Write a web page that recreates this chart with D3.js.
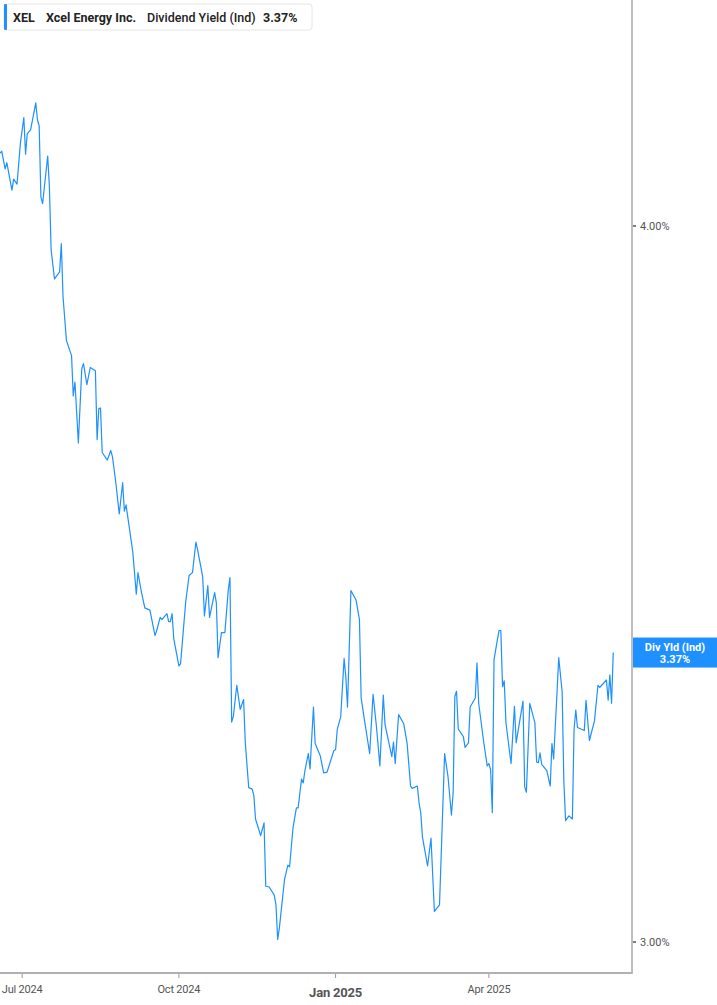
<!DOCTYPE html>
<html>
<head>
<meta charset="utf-8">
<script src="https://cdn.jsdelivr.net/npm/d3@7"></script>
<style>
  html, body { margin: 0; padding: 0; background: #fff; }
  svg { display: block; font-family: Roboto, Inter, "Noto Sans", sans-serif; }
</style>
</head>
<body>
<svg id="chart" width="717" height="1005"></svg>
<script>
// dividend yield (indicated), %
var dates = [
  "2024-06-18","2024-06-19","2024-06-21","2024-06-22","2024-06-25","2024-06-26","2024-06-28","2024-06-30",
  "2024-07-02","2024-07-03","2024-07-04","2024-07-06","2024-07-09","2024-07-10","2024-07-11","2024-07-12",
  "2024-07-13","2024-07-16","2024-07-17","2024-07-18","2024-07-20","2024-07-23","2024-07-24","2024-07-25",
  "2024-07-27","2024-07-30","2024-07-31","2024-08-01","2024-08-03","2024-08-05","2024-08-06","2024-08-08",
  "2024-08-10","2024-08-13","2024-08-14","2024-08-15","2024-08-16","2024-08-17","2024-08-20","2024-08-22",
  "2024-08-23","2024-08-25","2024-08-27","2024-08-29","2024-08-30","2024-08-31","2024-09-04","2024-09-06",
  "2024-09-07","2024-09-09","2024-09-11","2024-09-14","2024-09-17","2024-09-18","2024-09-20","2024-09-21",
  "2024-09-24","2024-09-25","2024-09-26","2024-09-27","2024-09-28","2024-10-01","2024-10-02","2024-10-05",
  "2024-10-07","2024-10-09","2024-10-11","2024-10-12","2024-10-15","2024-10-16","2024-10-18","2024-10-19",
  "2024-10-22","2024-10-23","2024-10-24","2024-10-26","2024-10-28","2024-10-30","2024-10-31","2024-11-01",
  "2024-11-02","2024-11-04","2024-11-06","2024-11-08","2024-11-09","2024-11-11","2024-11-13","2024-11-14",
  "2024-11-15","2024-11-18","2024-11-20","2024-11-21","2024-11-23","2024-11-26","2024-11-27","2024-11-28",
  "2024-11-29","2024-12-02","2024-12-04","2024-12-05","2024-12-07","2024-12-09","2024-12-10","2024-12-12",
  "2024-12-13","2024-12-14","2024-12-16","2024-12-17","2024-12-19","2024-12-20","2024-12-23","2024-12-25",
  "2024-12-27","2024-12-31","2025-01-01","2025-01-02","2025-01-04","2025-01-06","2025-01-07","2025-01-08",
  "2025-01-10","2025-01-13","2025-01-15","2025-01-16","2025-01-18","2025-01-21","2025-01-23","2025-01-25",
  "2025-01-27","2025-01-29","2025-01-30","2025-02-03","2025-02-04","2025-02-05","2025-02-07","2025-02-10",
  "2025-02-12","2025-02-14","2025-02-15","2025-02-18","2025-02-19","2025-02-20","2025-02-21","2025-02-24",
  "2025-02-26","2025-02-28","2025-03-03","2025-03-06","2025-03-08","2025-03-10","2025-03-11","2025-03-12",
  "2025-03-13","2025-03-14","2025-03-17","2025-03-18","2025-03-20","2025-03-21","2025-03-24","2025-03-25",
  "2025-03-26","2025-03-29","2025-03-31","2025-04-01","2025-04-02","2025-04-03","2025-04-04","2025-04-06",
  "2025-04-07","2025-04-08","2025-04-09","2025-04-10","2025-04-11","2025-04-14","2025-04-16","2025-04-17",
  "2025-04-21","2025-04-22","2025-04-23","2025-04-25","2025-04-28","2025-04-29","2025-04-30","2025-05-01",
  "2025-05-02","2025-05-05","2025-05-07","2025-05-08","2025-05-09","2025-05-12","2025-05-14","2025-05-15",
  "2025-05-16","2025-05-18","2025-05-20","2025-05-21","2025-05-22","2025-05-23","2025-05-27","2025-05-28",
  "2025-05-30","2025-06-02","2025-06-04","2025-06-05","2025-06-09","2025-06-10","2025-06-11","2025-06-12",
  "2025-06-13"
];

var yields = [
  4.119,4.122,4.093,4.103,4.058,4.076,4.068,4.136,
  4.178,4.117,4.151,4.158,4.203,4.174,4.164,4.047,
  4.036,4.114,4.063,3.962,3.916,3.927,3.972,3.888,
  3.820,3.797,3.736,3.757,3.666,3.777,3.785,3.753,
  3.779,3.774,3.671,3.717,3.718,3.652,3.641,3.655,
  3.646,3.608,3.563,3.608,3.567,3.576,3.508,3.450,
  3.480,3.453,3.431,3.428,3.393,3.400,3.418,3.415,
  3.423,3.412,3.412,3.423,3.389,3.352,3.355,3.439,
  3.476,3.480,3.523,3.512,3.474,3.420,3.462,3.418,
  3.452,3.438,3.363,3.397,3.397,3.456,3.473,3.277,
  3.285,3.326,3.294,3.307,3.250,3.192,3.190,3.182,
  3.152,3.131,3.147,3.068,3.067,3.057,3.045,3.003,
  3.017,3.076,3.094,3.092,3.141,3.166,3.166,3.203,
  3.198,3.214,3.236,3.216,3.297,3.249,3.233,3.211,
  3.212,3.240,3.241,3.268,3.284,3.362,3.337,3.297,
  3.455,3.442,3.415,3.309,3.279,3.236,3.314,3.271,
  3.220,3.313,3.274,3.232,3.251,3.223,3.287,3.275,
  3.249,3.194,3.191,3.194,3.172,3.160,3.129,3.093,
  3.128,3.037,3.045,3.236,3.206,3.157,3.185,3.311,
  3.318,3.268,3.258,3.244,3.250,3.297,3.309,3.356,
  3.302,3.250,3.220,3.223,3.215,3.160,3.360,3.388,
  3.400,3.400,3.324,3.332,3.276,3.223,3.298,3.250,
  3.305,3.193,3.186,3.302,3.276,3.225,3.224,3.237,
  3.222,3.214,3.194,3.249,3.229,3.363,3.317,3.199,
  3.150,3.156,3.152,3.268,3.293,3.270,3.266,3.306,
  3.253,3.279,3.326,3.323,3.333,3.306,3.340,3.302,
  3.370
];

var yTicks = [3.00, 4.00];
var xTicks = ["2024-07-01", "2024-10-01", "2025-01-01", "2025-04-01"];
var xTickLabels = ["Jul 2024", "Oct 2024", "Jan 2025", "Apr 2025"];
var ticker = "XEL", company = "Xcel Energy Inc.", seriesName = "Dividend Yield (Ind)";

var parse = d3.timeParse("%Y-%m-%d");
var data = dates.map(function (d, i) { return { date: parse(d), value: yields[i] }; });
var last = data[data.length - 1];

var blue = "#1e90ff";
var plotW = 632, plotH = 973;

var svg = d3.select("#chart");

var x = d3.scaleTime()
  .domain([parse("2024-06-18"), parse("2025-06-24")])
  .range([0, plotW]);

var y = d3.scaleLog()
  .domain([3, 4])
  .range([942, 226]);

svg.append("clipPath").attr("id", "clip")
  .append("rect").attr("width", plotW).attr("height", plotH);

// line
var line = d3.line()
  .x(function (d) { return x(d.date); })
  .y(function (d) { return y(d.value); });

svg.append("path")
  .datum(data)
  .attr("clip-path", "url(#clip)")
  .attr("fill", "none")
  .attr("stroke", blue)
  .attr("stroke-width", 1.2)
  .attr("stroke-linejoin", "round")
  .attr("d", line);

// right axis
var yAxisG = svg.append("g").attr("transform", "translate(" + plotW + ",0)");
yAxisG.append("line")
  .attr("y1", 0).attr("y2", plotH)
  .attr("stroke", "#a8a8a8").attr("stroke-width", 1.5);
var yt = yAxisG.selectAll(".yt").data(yTicks).enter().append("g")
  .attr("transform", function (d) { return "translate(0," + y(d) + ")"; });
yt.append("line").attr("x1", 1).attr("x2", 4).attr("stroke", "#555").attr("stroke-width", 1.5);
yt.append("text")
  .attr("x", 8).attr("dy", "0.35em")
  .attr("font-size", 11).attr("fill", "#555")
  .text(function (d) { return d3.format(".2f")(d) + "%"; });

// bottom axis
var xAxisG = svg.append("g").attr("transform", "translate(0," + plotH + ")");
xAxisG.append("line")
  .attr("x1", 0).attr("x2", plotW + 0.75)
  .attr("stroke", "#b0b0b0").attr("stroke-width", 2);
var xt = xAxisG.selectAll(".xt").data(xTicks).enter().append("g")
  .attr("transform", function (d) { return "translate(" + x(parse(d)) + ",0)"; });
xt.append("line").attr("y1", 1).attr("y2", 5).attr("stroke", "#999").attr("stroke-width", 1);
xt.append("text")
  .attr("text-anchor", "middle")
  .attr("y", function (d, i) { return xTickLabels[i].indexOf("Jan") === 0 ? 24 : 20; })
  .attr("font-size", function (d, i) { return xTickLabels[i].indexOf("Jan") === 0 ? 13 : 11; })
  .attr("font-weight", function (d, i) { return xTickLabels[i].indexOf("Jan") === 0 ? "bold" : "normal"; })
  .attr("fill", "#555")
  .attr("letter-spacing", -0.2)
  .text(function (d, i) { return xTickLabels[i]; });

// last value flag
var flag = svg.append("g").attr("transform", "translate(" + (plotW + 1) + "," + y(last.value) + ")");
flag.append("rect")
  .attr("x", 0).attr("y", -15).attr("width", 84).attr("height", 30)
  .attr("fill", blue);
flag.append("text")
  .attr("x", 42).attr("y", -2).attr("text-anchor", "middle")
  .attr("font-size", 11).attr("font-weight", "bold").attr("fill", "#fff")
  .text("Div Yld (Ind)");
flag.append("text")
  .attr("x", 42).attr("y", 10).attr("text-anchor", "middle")
  .attr("font-size", 11).attr("font-weight", "bold").attr("fill", "#fff")
  .text(d3.format(".2f")(last.value) + "%");

// legend box
var leg = svg.append("g").attr("transform", "translate(4,4)");
leg.append("rect")
  .attr("width", 308).attr("height", 26).attr("rx", 3)
  .attr("fill", "#fff").attr("stroke", "#e6e6e6");
leg.append("rect")
  .attr("width", 3).attr("height", 26).attr("rx", 1)
  .attr("fill", blue);
var legText = leg.append("text")
  .attr("y", 17.5).attr("font-size", 12.5).attr("font-weight", "bold").attr("fill", "#222");
legText.append("tspan").attr("x", 9).text(ticker);
legText.append("tspan").attr("x", 42).text(company);
legText.append("tspan").attr("x", 143).attr("font-weight", 500).text(seriesName);
legText.append("tspan").attr("x", 259).text(d3.format(".2f")(last.value) + "%");
</script>
</body>
</html>
